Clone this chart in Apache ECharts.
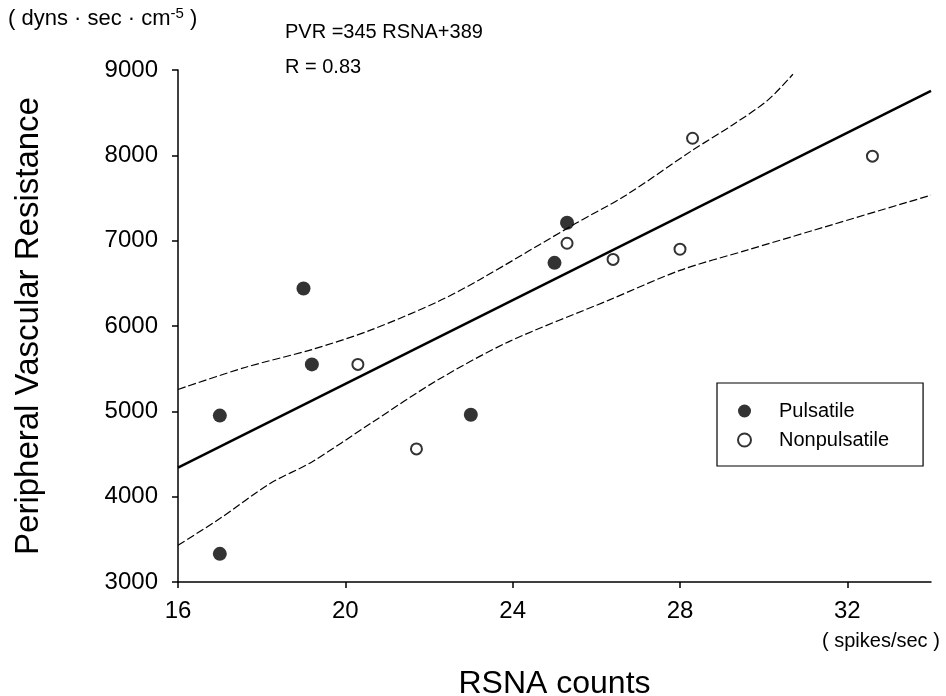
<!DOCTYPE html>
<html>
<head>
<meta charset="utf-8">
<script src="https://cdn.jsdelivr.net/npm/echarts@6/dist/echarts.min.js"></script>
<style>
  html, body { margin: 0; padding: 0; background: #fff; }
  #chart { width: 946px; height: 696px; }
</style>
</head>
<body>
<div id="chart"></div>
<script>
// RSNA counts (spikes/sec) vs peripheral vascular resistance
var pulsatile = [[17.0, 4950], [17.0, 3330], [19.0, 6440], [19.2, 5550], [23.0, 4960], [25.0, 6740], [25.3, 7210]];
var nonpulsatile = [[20.3, 5550], [21.7, 4560], [25.3, 6970], [26.4, 6780], [28.0, 6900], [28.3, 8200], [32.6, 7990]];
// regression line and confidence band
var fitLine = [[16, 4340], [34, 8756]];
var upperBand = [[16.0, 5256], [17.6, 5514], [19.2, 5724], [20.6, 5951], [22.2, 6283], [23.2, 6540], [25.5, 7200], [26.7, 7530], [28.3, 8060], [29.3, 8370], [30.1, 8647], [30.7, 8950]];
var lowerBand = [[16.0, 3430], [17.0, 3743], [18.2, 4154], [19.2, 4407], [20.6, 4857], [22.2, 5365], [23.9, 5814], [26.3, 6303], [28.0, 6652], [29.6, 6889], [31.2, 7123], [34.0, 7533]];
var xTicks = [16, 20, 24, 28, 32];
var yTicks = [3000, 4000, 5000, 6000, 7000, 8000, 9000];

var font = '"Liberation Sans", Arial, Helvetica, sans-serif';
var chart = echarts.init(document.getElementById('chart'));

var option = {
  backgroundColor: '#fff',
  animation: false,
  textStyle: { fontFamily: font, color: '#000' },
  grid: { left: 178, right: 15, top: 70, bottom: 114, outerBoundsMode: 'none', containLabel: false },
  xAxis: {
    type: 'value',
    min: 16,
    max: 34,
    interval: 4,
    name: 'RSNA counts',
    nameLocation: 'middle',
    nameGap: 86,
    nameTextStyle: { fontSize: 32, color: '#000', fontFamily: font },
    splitLine: { show: false },
    axisLine: { lineStyle: { color: '#000', width: 1.5 } },
    axisTick: { length: 6, lineStyle: { color: '#000', width: 1.5 }, customValues: xTicks },
    axisLabel: { fontSize: 24, color: '#000', margin: 17, fontFamily: font, customValues: xTicks }
  },
  yAxis: {
    type: 'value',
    min: 3000,
    max: 9000,
    interval: 1000,
    name: 'Peripheral Vascular Resistance',
    nameLocation: 'middle',
    nameRotate: 90,
    nameGap: 133,
    nameTextStyle: { fontSize: 33, color: '#000', fontFamily: font },
    splitLine: { show: false },
    axisLine: { lineStyle: { color: '#000', width: 1.5 } },
    axisTick: { length: 6, lineStyle: { color: '#000', width: 1.5 }, customValues: yTicks },
    axisLabel: {
      fontSize: 24, color: '#000', margin: 20, fontFamily: font, customValues: yTicks,
      formatter: function (v) { return String(v); }
    }
  },
  legend: {
    data: ['Pulsatile', 'Nonpulsatile'],
    orient: 'vertical',
    left: 717,
    top: 383,
    borderColor: '#000',
    borderWidth: 1.2,
    padding: [18, 34, 16, 20],
    itemWidth: 13,
    itemHeight: 13,
    itemGap: 9,
    icon: 'circle',
    textStyle: { fontSize: 20, color: '#000', fontFamily: font, padding: [0, 0, 0, 23] }
  },
  graphic: [
    {
      type: 'text', left: 8, top: 6,
      style: {
        text: '( dyns · sec · cm{sup|-5} )',
        font: '22px ' + font, fill: '#000',
        rich: { sup: { fontSize: 15, fontFamily: font, padding: [0, 0, 10, 0] } }
      }
    },
    { type: 'text', left: 285, top: 22, style: { text: 'PVR =345 RSNA+389', font: '20px ' + font, fill: '#000' } },
    { type: 'text', left: 285, top: 57, style: { text: 'R = 0.83', font: '20px ' + font, fill: '#000' } },
    { type: 'text', left: 822, top: 631, style: { text: '( spikes/sec )', font: '20px ' + font, fill: '#000' } }
  ],
  series: [
    {
      name: 'fit', type: 'line', data: fitLine, symbol: 'none', silent: true,
      lineStyle: { color: '#000', width: 2.5 }, z: 2
    },
    {
      name: 'upper', type: 'line', data: upperBand, symbol: 'none', silent: true, smooth: 0.3,
      lineStyle: { color: '#000', width: 1.2, type: [8, 3] }, z: 2
    },
    {
      name: 'lower', type: 'line', data: lowerBand, symbol: 'none', silent: true, smooth: 0.3,
      lineStyle: { color: '#000', width: 1.2, type: [8, 3] }, z: 2
    },
    {
      name: 'Pulsatile', type: 'scatter', data: pulsatile, symbol: 'circle', symbolSize: 14,
      itemStyle: { color: '#000' }, z: 5
    },
    {
      name: 'Nonpulsatile', type: 'scatter', data: nonpulsatile, symbol: 'circle', symbolSize: 11,
      itemStyle: { color: '#fff', borderColor: '#000', borderWidth: 2 }, z: 5
    }
  ]
};

chart.setOption(option);
</script>
</body>
</html>
